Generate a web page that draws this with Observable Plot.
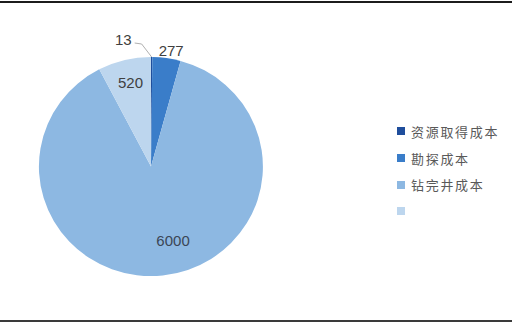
<!DOCTYPE html>
<html><head><meta charset="utf-8">
<script src="https://cdn.jsdelivr.net/npm/d3@7"></script>
<script src="https://cdn.jsdelivr.net/npm/@observablehq/plot@0.6"></script>
<style>
body{margin:0;background:#fff;}
#wrap{position:relative;width:512px;height:324px;overflow:hidden;background:#fff;}
.rule{position:absolute;left:0;width:512px;}
#top{top:1px;height:2px;background:#1c1c1c;}
#bot{top:320px;height:2px;background:#3a3a3a;}
#legend{position:absolute;left:397px;top:118px;font-family:"Noto Sans CJK SC","Noto Sans",sans-serif;font-size:13px;color:#595959;letter-spacing:1.7px;}
#legend .item{display:flex;align-items:center;height:26.7px;}
#legend .sw{width:8px;height:8px;margin-right:6px;flex:none;}
</style></head>
<body><div id="wrap"><div class="rule" id="top"></div><div class="rule" id="bot"></div><div id="legend"></div></div>
<script>
const categories = ["资源取得成本", "勘探成本", "钻完井成本", ""];
const values = [13, 277, 6000, 520];
const valueLabels = ["13", "277", "6000", "520"];
const palette = ["#1F4E9C", "#3A7DC9", "#8DB8E2", "#BDD6EE"];

const data = categories.map((c, i) => ({category: c, value: values[i], label: valueLabels[i]}));
const total = d3.sum(values);
const arcs = d3.pie().sort(null).value(d => d.value)(data);
const colorOf = d3.scaleOrdinal(categories, palette);

// label anchor points in unit (data) coordinates
const labelPts = arcs.map(a => {
  const mid = (a.startAngle + a.endAngle) / 2;
  const share = a.data.value / total;
  const k = share < 0.02 ? 1.0 : share < 0.06 ? 1.07 : share > 0.5 ? 0.72 : 0.79;
  return {...a.data, mid, share, x: k * Math.sin(mid), y: k * Math.cos(mid)};
});
const midLabels = labelPts.filter(d => d.share >= 0.06 && d.share <= 0.5);
const bigLabels = labelPts.filter(d => d.share > 0.5);
const outsideLabels = labelPts.filter(d => d.share >= 0.02 && d.share < 0.06);
const leaderLabels = labelPts.filter(d => d.share < 0.02);

const svgNS = "http://www.w3.org/2000/svg";
function slices(index, scales) {
  const g = document.createElementNS(svgNS, "g");
  const cx = scales.x(0), cy = scales.y(0);
  const rx = scales.x(1) - cx, ry = scales.y(-1) - cy;
  const arcGen = d3.arc().innerRadius(0).outerRadius(1);
  for (const a of arcs) {
    const p = document.createElementNS(svgNS, "path");
    p.setAttribute("d", arcGen(a));
    p.setAttribute("fill", colorOf(a.data.category));
    p.setAttribute("transform", `translate(${cx},${cy}) scale(${rx},${ry})`);
    g.appendChild(p);
  }
  // leader lines + labels for very small slices
  for (const d of leaderLabels) {
    const x0 = scales.x(Math.sin(d.mid)), y0 = scales.y(Math.cos(d.mid));
    const x1 = x0 - 10, y1 = y0 - 13, x2 = x1 - 7, y2 = y1 - 1;
    const pl = document.createElementNS(svgNS, "polyline");
    pl.setAttribute("points", `${x0},${y0} ${x1},${y1} ${x2},${y2}`);
    pl.setAttribute("fill", "none");
    pl.setAttribute("stroke", "#b0b0b0");
    pl.setAttribute("stroke-width", "1");
    g.appendChild(pl);
    const t = document.createElementNS(svgNS, "text");
    t.setAttribute("x", x2 - 3);
    t.setAttribute("y", y2 - 3);
    t.setAttribute("text-anchor", "end");
    t.setAttribute("dy", "0.32em");
    t.setAttribute("fill", "#404040");
    t.setAttribute("font-size", "15");
    t.setAttribute("font-family", "Arial, 'Liberation Sans', sans-serif");
    t.textContent = d.label;
    g.appendChild(t);
  }
  return g;
}

const plot = Plot.plot({
  width: 512,
  height: 324,
  margin: 0,
  x: {domain: [-1, 1], range: [39, 263], axis: null},
  y: {domain: [-1, 1], range: [276, 57], axis: null},
  style: {background: "transparent", fontFamily: "Arial, 'Liberation Sans', sans-serif"},
  marks: [
    slices,
    Plot.text(midLabels, {x: "x", y: "y", text: "label", fill: "#404040", fontSize: 15}),
    Plot.text(bigLabels, {x: "x", y: "y", text: "label", fill: "#3b4656", fontSize: 15, dx: 13, dy: -4}),
    Plot.text(outsideLabels, {x: "x", y: "y", text: "label", fill: "#404040", fontSize: 15, dx: 3})
  ]
});
plot.style.position = "absolute";
plot.style.left = "0";
plot.style.top = "0";
document.getElementById("wrap").appendChild(plot);

const legend = document.getElementById("legend");
for (const c of categories) {
  const item = document.createElement("div");
  item.className = "item";
  const sw = document.createElement("span");
  sw.className = "sw";
  sw.style.background = colorOf(c);
  const tx = document.createElement("span");
  tx.textContent = c;
  item.appendChild(sw);
  item.appendChild(tx);
  legend.appendChild(item);
}
</script>
</body></html>
